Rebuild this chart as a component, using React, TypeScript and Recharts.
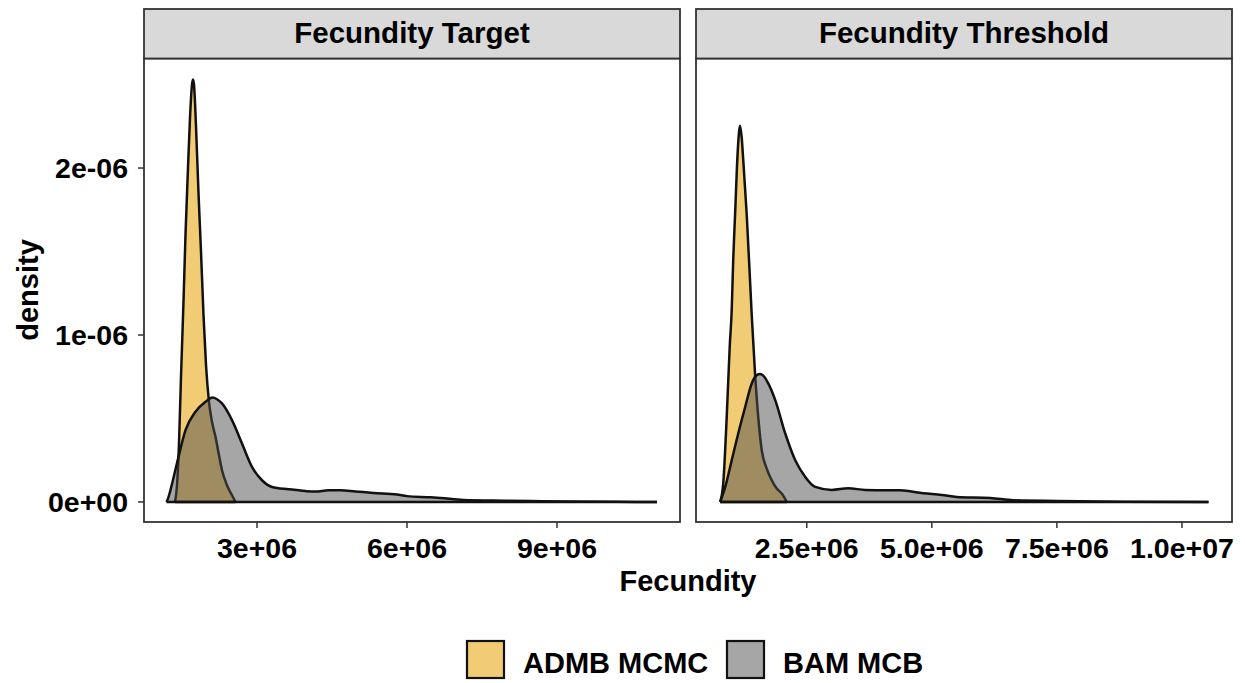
import React from 'react';
import { ComposedChart, Area, XAxis, YAxis, ReferenceLine } from 'recharts';

// ---------- data ----------
// [fecundity, density]
const targetAdmb: number[][] = [
  [1.36e6, 0], [1.40e6, 0.10e-6], [1.44e6, 0.35e-6], [1.48e6, 0.75e-6], [1.53e6, 1.20e-6],
  [1.57e6, 1.60e-6], [1.62e6, 2.00e-6], [1.66e6, 2.30e-6], [1.70e6, 2.50e-6], [1.72e6, 2.53e-6],
  [1.74e6, 2.50e-6], [1.78e6, 2.25e-6], [1.83e6, 1.85e-6], [1.88e6, 1.50e-6], [1.93e6, 1.12e-6],
  [1.98e6, 0.82e-6], [2.04e6, 0.60e-6], [2.10e6, 0.48e-6], [2.17e6, 0.39e-6], [2.24e6, 0.28e-6],
  [2.30e6, 0.19e-6], [2.40e6, 0.10e-6], [2.50e6, 0.04e-6], [2.57e6, 0],
];
const targetBam: number[][] = [
  [1.19e6, 0], [1.22e6, 0.02e-6], [1.26e6, 0.06e-6], [1.31e6, 0.12e-6], [1.43e6, 0.27e-6],
  [1.57e6, 0.43e-6], [1.77e6, 0.54e-6], [1.97e6, 0.60e-6], [2.11e6, 0.625e-6], [2.20e6, 0.615e-6],
  [2.30e6, 0.59e-6], [2.50e6, 0.49e-6], [2.70e6, 0.35e-6], [2.90e6, 0.21e-6], [3.10e6, 0.13e-6],
  [3.30e6, 0.09e-6], [3.63e6, 0.076e-6], [3.97e6, 0.065e-6], [4.17e6, 0.062e-6], [4.43e6, 0.07e-6],
  [4.67e6, 0.07e-6], [4.97e6, 0.063e-6], [5.33e6, 0.054e-6], [5.80e6, 0.045e-6], [6.00e6, 0.035e-6],
  [6.47e6, 0.028e-6], [6.67e6, 0.024e-6], [7.13e6, 0.012e-6], [8.00e6, 0.008e-6], [8.70e6, 0.005e-6],
  [9.33e6, 0.003e-6], [10.2e6, 0.001e-6], [11.0e6, 0],
];
const thresholdAdmb: number[][] = [
  [0.77e6, 0], [0.83e6, 0.11e-6], [0.90e6, 0.51e-6], [0.93e6, 0.72e-6], [0.96e6, 0.93e-6],
  [1.00e6, 1.15e-6], [1.03e6, 1.45e-6], [1.067e6, 1.72e-6], [1.12e6, 2.10e-6], [1.166e6, 2.253e-6],
  [1.20e6, 2.18e-6], [1.23e6, 2.05e-6], [1.30e6, 1.72e-6], [1.40e6, 1.12e-6], [1.47e6, 0.75e-6],
  [1.53e6, 0.51e-6], [1.60e6, 0.31e-6], [1.70e6, 0.20e-6], [1.80e6, 0.13e-6], [1.90e6, 0.08e-6],
  [2.00e6, 0.05e-6], [2.10e6, 0],
];
const thresholdBam: number[][] = [
  [0.77e6, 0], [0.87e6, 0.09e-6], [1.00e6, 0.25e-6], [1.13e6, 0.41e-6], [1.27e6, 0.57e-6],
  [1.40e6, 0.71e-6], [1.50e6, 0.76e-6], [1.566e6, 0.766e-6], [1.65e6, 0.75e-6], [1.73e6, 0.71e-6],
  [1.87e6, 0.61e-6], [2.07e6, 0.41e-6], [2.27e6, 0.25e-6], [2.47e6, 0.15e-6], [2.67e6, 0.09e-6],
  [3.00e6, 0.072e-6], [3.33e6, 0.082e-6], [3.67e6, 0.072e-6], [4.07e6, 0.07e-6], [4.37e6, 0.07e-6],
  [4.83e6, 0.052e-6], [5.20e6, 0.042e-6], [5.50e6, 0.030e-6], [6.17e6, 0.024e-6], [6.63e6, 0.010e-6],
  [7.50e6, 0.006e-6], [8.83e6, 0.002e-6], [10.53e6, 0],
];

const panelTitles = ['Fecundity Target', 'Fecundity Threshold'];
const seriesNames = ['ADMB MCMC', 'BAM MCB'];

const yTicks = [0, 1e-6, 2e-6];
const yTickLabels = ['0e+00', '1e-06', '2e-06'];
const targetXTicks = [3e6, 6e6, 9e6];
const targetXTickLabels = ['3e+06', '6e+06', '9e+06'];
const thresholdXTicks = [2.5e6, 5e6, 7.5e6, 1e7];
const thresholdXTickLabels = ['2.5e+06', '5.0e+06', '7.5e+06', '1.0e+07'];

const targetXDomain = [0.74e6, 11.46e6];
const thresholdXDomain = [0.286e6, 11.0e6];
const yDomain = [-0.12e-6, 2.653e-6];

// ---------- styles ----------
const FONT = '"Liberation Sans", Arial, Helvetica, sans-serif';
const YELLOW = '#EBB73A';
const YELLOW_OP = 0.7;
const GRAY = '#4d4d4d';
const GRAY_OP = 0.5;
const OUTLINE = '#111111';
const FRAME = '#333333';
const LW = 2.5;

function buildTable(a: number[][], b: number[][]) {
  const xs = Array.from(new Set([...a.map((p) => p[0]), ...b.map((p) => p[0])])).sort((p, q) => p - q);
  const ma = new Map(a.map((p) => [p[0], p[1]]));
  const mb = new Map(b.map((p) => [p[0], p[1]]));
  return xs.map((x) => ({
    x,
    admb: ma.has(x) ? ma.get(x) : null,
    bam: mb.has(x) ? mb.get(x) : null,
  }));
}

const tickStyle = { fill: '#000', fontSize: 28.5, fontWeight: 'bold', fontFamily: FONT };

function Panel(props: {
  admb: number[][];
  bam: number[][];
  xDomain: number[];
  xTicks: number[];
  xLabels: string[];
  showY: boolean;
  width: number;
}) {
  const { admb, bam, xDomain, xTicks, xLabels, showY, width } = props;
  const table = buildTable(admb, bam);
  return (
    <ComposedChart
      width={width}
      height={533}
      data={table}
      margin={{ top: 10, right: 10, bottom: 0, left: 0 }}
    >
      <XAxis
        dataKey="x"
        type="number"
        domain={xDomain}
        allowDataOverflow
        ticks={xTicks}
        interval={0}
        tickFormatter={(v: number) => xLabels[xTicks.indexOf(v)] ?? ''}
        tick={tickStyle}
        tickSize={6}
        tickMargin={10}
        tickLine={{ stroke: FRAME, strokeWidth: 1.5 }}
        axisLine={false}
        height={60}
      />
      <YAxis
        type="number"
        domain={yDomain}
        allowDataOverflow
        ticks={yTicks}
        interval={0}
        tickFormatter={(v: number) => yTickLabels[yTicks.indexOf(v)] ?? ''}
        tick={tickStyle}
        tickSize={6}
        tickMargin={10}
        tickLine={{ stroke: FRAME, strokeWidth: 1.5 }}
        axisLine={false}
        width={144}
        hide={!showY}
      />
      <Area
        type="monotone"
        dataKey="admb"
        name={seriesNames[0]}
        stroke={OUTLINE}
        strokeWidth={LW}
        strokeLinejoin="round"
        fill={YELLOW}
        fillOpacity={YELLOW_OP}
        baseValue={0}
        connectNulls
        dot={false}
        activeDot={false}
        isAnimationActive={false}
      />
      <Area
        type="monotone"
        dataKey="bam"
        name={seriesNames[1]}
        stroke={OUTLINE}
        strokeWidth={LW}
        strokeLinejoin="round"
        fill={GRAY}
        fillOpacity={GRAY_OP}
        baseValue={0}
        connectNulls
        dot={false}
        activeDot={false}
        isAnimationActive={false}
      />
      <ReferenceLine
        segment={[{ x: admb[0][0], y: 0 }, { x: admb[admb.length - 1][0], y: 0 }]}
        stroke={OUTLINE}
        strokeWidth={LW}
      />
      <ReferenceLine
        segment={[{ x: bam[0][0], y: 0 }, { x: bam[bam.length - 1][0], y: 0 }]}
        stroke={OUTLINE}
        strokeWidth={LW}
      />
    </ComposedChart>
  );
}

export default function App() {
  const txt = { fontFamily: FONT, fontWeight: 'bold' as const, fill: '#000' };
  return (
    <div
      style={{
        position: 'absolute',
        left: 0,
        top: 0,
        width: 1245,
        height: 683,
        background: '#fff',
        overflow: 'hidden',
      }}
    >
      <div style={{ position: 'absolute', left: 0, top: 49 }}>
        <Panel
          admb={targetAdmb}
          bam={targetBam}
          xDomain={targetXDomain}
          xTicks={targetXTicks}
          xLabels={targetXTickLabels}
          showY={true}
          width={690}
        />
      </div>
      <div style={{ position: 'absolute', left: 696, top: 49 }}>
        <Panel
          admb={thresholdAdmb}
          bam={thresholdBam}
          xDomain={thresholdXDomain}
          xTicks={thresholdXTicks}
          xLabels={thresholdXTickLabels}
          showY={false}
          width={546}
        />
      </div>
      <svg
        width={1245}
        height={683}
        style={{ position: 'absolute', left: 0, top: 0, pointerEvents: 'none' }}
      >
        {/* panel frames */}
        <rect x={144} y={58.5} width={536} height={463.5} fill="none" stroke={FRAME} strokeWidth={1.8} />
        <rect x={696} y={58.5} width={536} height={463.5} fill="none" stroke={FRAME} strokeWidth={1.8} />
        {/* strips */}
        <rect x={144} y={9} width={536} height={49.5} fill="#D9D9D9" stroke={FRAME} strokeWidth={1.8} />
        <rect x={696} y={9} width={536} height={49.5} fill="#D9D9D9" stroke={FRAME} strokeWidth={1.8} />
        <text x={412} y={43} textAnchor="middle" fontSize={29.5} {...txt}>
          {panelTitles[0]}
        </text>
        <text x={964} y={43} textAnchor="middle" fontSize={29.5} {...txt}>
          {panelTitles[1]}
        </text>
        {/* axis titles */}
        <text x={688} y={591} textAnchor="middle" fontSize={29} {...txt}>
          Fecundity
        </text>
        <text x={-290} y={38} transform="rotate(-90)" textAnchor="middle" fontSize={29} {...txt}>
          density
        </text>
        {/* legend */}
        <rect x={467} y={641} width={37} height={37} fill={YELLOW} fillOpacity={YELLOW_OP} stroke={OUTLINE} strokeWidth={2.2} />
        <text x={523} y={673} fontSize={29} {...txt}>
          {seriesNames[0]}
        </text>
        <rect x={727} y={641} width={37} height={37} fill={GRAY} fillOpacity={GRAY_OP} stroke={OUTLINE} strokeWidth={2.2} />
        <text x={783} y={673} fontSize={29} {...txt}>
          {seriesNames[1]}
        </text>
      </svg>
    </div>
  );
}
